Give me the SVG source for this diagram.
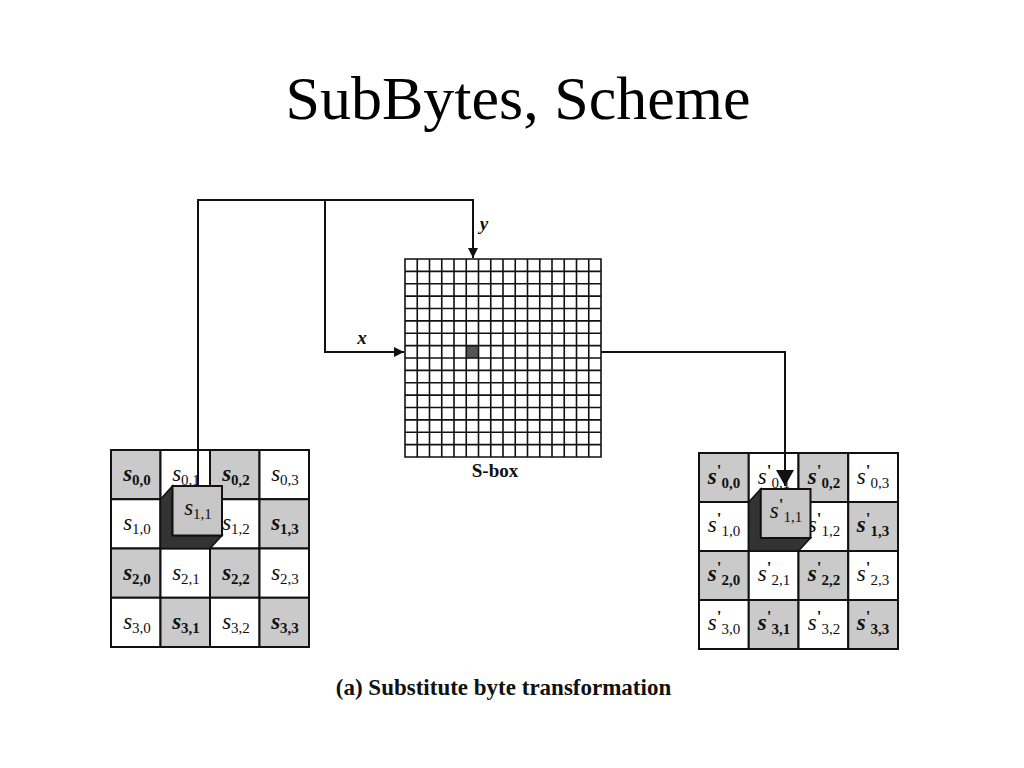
<svg xmlns="http://www.w3.org/2000/svg" width="1024" height="768" viewBox="0 0 1024 768">
<defs>
<style>
.title{font-family:"Liberation Serif","Times New Roman",serif;font-size:62px;fill:#000}
.cap{font-family:"Liberation Serif","Times New Roman",serif;font-size:23px;font-weight:bold;fill:#111}
.lab{font-family:"Liberation Serif","Times New Roman",serif;font-size:19px;font-weight:bold;fill:#111}
.var{font-family:"Liberation Serif","Times New Roman",serif;font-size:19px;font-style:italic;font-weight:bold;fill:#111}
.cell{stroke:#111;stroke-width:2}
.sh{fill:#cacaca}
.wh{fill:#fff}
.st{font-family:"Liberation Serif","Times New Roman",serif;font-size:23px;font-style:italic;fill:#111;text-anchor:middle}
.stb{font-weight:bold}
.sub{font-size:15px;font-style:normal}
.pr{font-size:17px;font-style:normal;font-weight:bold}
.conn{fill:none;stroke:#111;stroke-width:2}
.grid{fill:none;stroke:#111;stroke-width:1.6}
.dark{fill:#333;stroke:#111;stroke-width:1.5}
.face{fill:#c6c6c6;stroke:#111;stroke-width:2}
</style>
<marker id="ah" markerUnits="userSpaceOnUse" markerWidth="10" markerHeight="10" refX="10" refY="5" orient="auto"><path d="M0,0 L10,5 L0,10 z" fill="#111"/></marker>
<marker id="ahb" markerUnits="userSpaceOnUse" markerWidth="16" markerHeight="18" refX="16" refY="9" orient="auto"><path d="M0,0 L16,9 L0,18 z" fill="#111"/></marker>
</defs>
<rect width="1024" height="768" fill="#fff"/>
<text class="title" x="518" y="119" text-anchor="middle">SubBytes, Scheme</text>

<g id="sbox">
<rect x="405" y="259" width="196" height="198" fill="#fff"/>
<rect x="466.25" y="345.6" width="12.25" height="12.4" fill="#555"/>
<path class="grid" d="M405,259H601V457H405Z M417.25,259V457 M429.5,259V457 M441.75,259V457 M454,259V457 M466.25,259V457 M478.5,259V457 M490.75,259V457 M503,259V457 M515.25,259V457 M527.5,259V457 M539.75,259V457 M552,259V457 M564.25,259V457 M576.5,259V457 M588.75,259V457 M405,271.4H601 M405,283.75H601 M405,296.1H601 M405,308.5H601 M405,320.9H601 M405,333.25H601 M405,345.6H601 M405,358H601 M405,370.4H601 M405,382.75H601 M405,395.1H601 M405,407.5H601 M405,419.9H601 M405,432.25H601 M405,444.6H601"/>
<text class="lab" x="495" y="477" text-anchor="middle">S-box</text>
</g>

<g id="state-in">
<rect class="cell sh" x="111" y="450" width="49.5" height="49.25"/>
<rect class="cell wh" x="160.5" y="450" width="49.5" height="49.25"/>
<rect class="cell sh" x="210" y="450" width="49.5" height="49.25"/>
<rect class="cell wh" x="259.5" y="450" width="49.5" height="49.25"/>
<rect class="cell wh" x="111" y="499.25" width="49.5" height="49.25"/>
<rect class="cell sh" x="160.5" y="499.25" width="49.5" height="49.25"/>
<rect class="cell wh" x="210" y="499.25" width="49.5" height="49.25"/>
<rect class="cell sh" x="259.5" y="499.25" width="49.5" height="49.25"/>
<rect class="cell sh" x="111" y="548.5" width="49.5" height="49.25"/>
<rect class="cell wh" x="160.5" y="548.5" width="49.5" height="49.25"/>
<rect class="cell sh" x="210" y="548.5" width="49.5" height="49.25"/>
<rect class="cell wh" x="259.5" y="548.5" width="49.5" height="49.25"/>
<rect class="cell wh" x="111" y="597.75" width="49.5" height="49.25"/>
<rect class="cell sh" x="160.5" y="597.75" width="49.5" height="49.25"/>
<rect class="cell wh" x="210" y="597.75" width="49.5" height="49.25"/>
<rect class="cell sh" x="259.5" y="597.75" width="49.5" height="49.25"/>
<text class="st stb" x="137" y="481">s<tspan class="sub" dy="4">0,0</tspan></text>
<text class="st" x="186" y="481">s<tspan class="sub" dy="4">0,1</tspan></text>
<text class="st stb" x="236" y="481">s<tspan class="sub" dy="4">0,2</tspan></text>
<text class="st" x="285" y="481">s<tspan class="sub" dy="4">0,3</tspan></text>
<text class="st" x="137" y="530">s<tspan class="sub" dy="4">1,0</tspan></text>
<text class="st" x="236" y="530">s<tspan class="sub" dy="4">1,2</tspan></text>
<text class="st stb" x="285" y="530">s<tspan class="sub" dy="4">1,3</tspan></text>
<text class="st stb" x="137" y="580">s<tspan class="sub" dy="4">2,0</tspan></text>
<text class="st" x="186" y="580">s<tspan class="sub" dy="4">2,1</tspan></text>
<text class="st stb" x="236" y="580">s<tspan class="sub" dy="4">2,2</tspan></text>
<text class="st" x="285" y="580">s<tspan class="sub" dy="4">2,3</tspan></text>
<text class="st" x="137" y="629">s<tspan class="sub" dy="4">3,0</tspan></text>
<text class="st stb" x="186" y="629">s<tspan class="sub" dy="4">3,1</tspan></text>
<text class="st" x="236" y="629">s<tspan class="sub" dy="4">3,2</tspan></text>
<text class="st stb" x="285" y="629">s<tspan class="sub" dy="4">3,3</tspan></text>
</g>

<g id="cube-in">
<path class="dark" d="M160.5,499.25 L172.5,486 L172.5,535.5 L222,535.5 L210,548.5 L160.5,548.5 Z"/>
<rect class="face" x="172.5" y="486" width="49.5" height="49.5"/>
<text class="st" x="198" y="515">s<tspan class="sub" dy="4">1,1</tspan></text>
</g>

<g id="state-out">
<rect class="cell sh" x="699" y="453" width="49.75" height="49"/>
<rect class="cell wh" x="748.75" y="453" width="49.75" height="49"/>
<rect class="cell sh" x="798.5" y="453" width="49.75" height="49"/>
<rect class="cell wh" x="848.25" y="453" width="49.75" height="49"/>
<rect class="cell wh" x="699" y="502" width="49.75" height="49"/>
<rect class="cell sh" x="748.75" y="502" width="49.75" height="49"/>
<rect class="cell wh" x="798.5" y="502" width="49.75" height="49"/>
<rect class="cell sh" x="848.25" y="502" width="49.75" height="49"/>
<rect class="cell sh" x="699" y="551" width="49.75" height="49"/>
<rect class="cell wh" x="748.75" y="551" width="49.75" height="49"/>
<rect class="cell sh" x="798.5" y="551" width="49.75" height="49"/>
<rect class="cell wh" x="848.25" y="551" width="49.75" height="49"/>
<rect class="cell wh" x="699" y="600" width="49.75" height="49"/>
<rect class="cell sh" x="748.75" y="600" width="49.75" height="49"/>
<rect class="cell wh" x="798.5" y="600" width="49.75" height="49"/>
<rect class="cell sh" x="848.25" y="600" width="49.75" height="49"/>
<text class="st stb" x="724" y="484">s<tspan class="pr" dy="-8">'</tspan><tspan class="sub" dy="12">0,0</tspan></text>
<text class="st" x="774" y="484">s<tspan class="pr" dy="-8">'</tspan><tspan class="sub" dy="12">0,1</tspan></text>
<text class="st stb" x="824" y="484">s<tspan class="pr" dy="-8">'</tspan><tspan class="sub" dy="12">0,2</tspan></text>
<text class="st" x="873" y="484">s<tspan class="pr" dy="-8">'</tspan><tspan class="sub" dy="12">0,3</tspan></text>
<text class="st" x="724" y="532">s<tspan class="pr" dy="-8">'</tspan><tspan class="sub" dy="12">1,0</tspan></text>
<text class="st" x="824" y="532">s<tspan class="pr" dy="-8">'</tspan><tspan class="sub" dy="12">1,2</tspan></text>
<text class="st stb" x="873" y="532">s<tspan class="pr" dy="-8">'</tspan><tspan class="sub" dy="12">1,3</tspan></text>
<text class="st stb" x="724" y="581">s<tspan class="pr" dy="-8">'</tspan><tspan class="sub" dy="12">2,0</tspan></text>
<text class="st" x="774" y="581">s<tspan class="pr" dy="-8">'</tspan><tspan class="sub" dy="12">2,1</tspan></text>
<text class="st stb" x="824" y="581">s<tspan class="pr" dy="-8">'</tspan><tspan class="sub" dy="12">2,2</tspan></text>
<text class="st" x="873" y="581">s<tspan class="pr" dy="-8">'</tspan><tspan class="sub" dy="12">2,3</tspan></text>
<text class="st" x="724" y="630">s<tspan class="pr" dy="-8">'</tspan><tspan class="sub" dy="12">3,0</tspan></text>
<text class="st stb" x="774" y="630">s<tspan class="pr" dy="-8">'</tspan><tspan class="sub" dy="12">3,1</tspan></text>
<text class="st" x="824" y="630">s<tspan class="pr" dy="-8">'</tspan><tspan class="sub" dy="12">3,2</tspan></text>
<text class="st stb" x="873" y="630">s<tspan class="pr" dy="-8">'</tspan><tspan class="sub" dy="12">3,3</tspan></text>
</g>

<g id="cube-out">
<path class="dark" d="M748.75,502 L760.75,489 L760.75,538 L810.5,538 L798.5,551 L748.75,551 Z"/>
<rect class="face" x="760.75" y="489" width="49.75" height="49"/>
<text class="st" x="786" y="518">s<tspan class="pr" dy="-8">'</tspan><tspan class="sub" dy="12">1,1</tspan></text>
</g>

<g id="connectors">
<path class="conn" d="M198,486 V200 H473 V258" marker-end="url(#ah)"/>
<path class="conn" d="M325,200 V352 H404" marker-end="url(#ah)"/>
<path class="conn" d="M601,352 H785 V486" marker-end="url(#ahb)"/>
<text class="var" x="362" y="344" text-anchor="middle">x</text>
<text class="var" x="484" y="230" text-anchor="middle">y</text>
</g>

<text class="cap" x="503.5" y="695" text-anchor="middle">(a) Substitute byte transformation</text>
</svg>
